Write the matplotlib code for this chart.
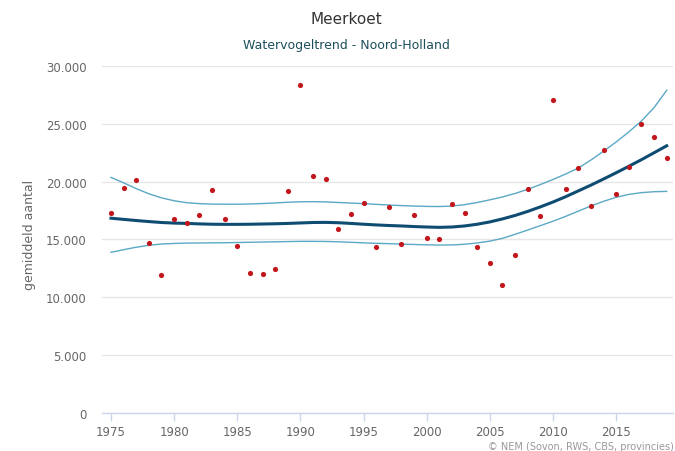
import numpy as np
from matplotlib import pyplot as plt
from matplotlib.ticker import FuncFormatter

# data ------------------------------------------------------------------------
years = list(range(1975, 2020))

counts = [17300, 19450, 20150, 14700, 11950, 16800, 16450, 17100, 19300, 16800,
          14450, 12100, 12000, 12450, 19200, 28350, 20500, 20200, 15900, 17200,
          18150, 14350, 17850, 14600, 17100, 15100, 15000, 18050, 17300, 14350,
          12950, 11050, 13650, 19400, 17000, 27100, 19400, 21200, 17900, 22700,
          18900, 21250, 25000, 23850, 22050]

trend = [16840, 16740, 16640, 16550, 16470, 16420, 16390, 16350, 16320, 16310,
         16310, 16320, 16340, 16360, 16390, 16430, 16470, 16480, 16450, 16390,
         16320, 16260, 16210, 16170, 16120, 16080, 16050, 16080, 16170, 16320,
         16520, 16780, 17080, 17430, 17820, 18240, 18700, 19200, 19700, 20230,
         20770, 21330, 21900, 22500, 23100]

upper = [20370, 19900, 19400, 18950, 18600, 18350, 18180, 18100, 18060, 18050,
         18050, 18070, 18110, 18160, 18220, 18260, 18270, 18250, 18200, 18150,
         18100, 18040, 17980, 17930, 17890, 17860, 17850, 17890, 18010, 18200,
         18430, 18680, 18980, 19340, 19750, 20190, 20660, 21170, 21870, 22630,
         23430, 24300, 25250, 26400, 27900]

lower = [13890, 14120, 14330, 14500, 14610, 14660, 14690, 14700, 14710, 14720,
         14740, 14760, 14780, 14800, 14820, 14840, 14840, 14830, 14800, 14760,
         14710, 14670, 14640, 14600, 14570, 14540, 14520, 14530, 14590, 14700,
         14860, 15100, 15450, 15820, 16200, 16580, 17000, 17450, 17900, 18300,
         18650, 18900, 19050, 19130, 19160]

x_ticks = list(range(1975, 2020, 5))
y_ticks = [0, 5000, 10000, 15000, 20000, 25000, 30000]

plt.rcParams['font.family'] = ['DejaVu Sans']

fig = plt.figure(figsize=(6.75, 4.52), dpi=100)
ax = fig.add_axes([102/675, 38/452, 571/675, 347/452])

# confidence band lines and trend
ax.plot(years, upper, color='#5ba8c4', lw=1.0, zorder=2)
ax.plot(years, lower, color='#5ba8c4', lw=1.0, zorder=2)
ax.plot(years, trend, color='#0f4c72', lw=2.2, zorder=3)
ax.scatter(years, counts, s=14, color='#c3161c', zorder=4, linewidths=0)

ax.set_xlim(1974.29, 2019.5)
ax.set_ylim(0, 30000)
ax.set_xticks(x_ticks)
ax.set_yticks(y_ticks)
ax.yaxis.set_major_formatter(FuncFormatter(lambda v, p: f"{int(v):,}".replace(",", ".")))

ax.grid(axis='y', color='#e6e6e6', lw=1)
ax.set_axisbelow(True)
for s in ['top', 'right', 'left']:
    ax.spines[s].set_visible(False)
ax.spines['bottom'].set_color('#ccd6eb')
ax.spines['bottom'].set_linewidth(1)
ax.tick_params(axis='x', colors='#ccd6eb', length=6, width=1, labelcolor='#666666',
               labelsize=8.5, pad=3)
ax.tick_params(axis='y', length=0, labelcolor='#666666', labelsize=8.5, pad=11)

fig.text(30/675, 1 - 235/452, 'gemiddeld aantal', rotation=90, ha='center', va='center',
         color='#666666', fontsize=9)

fig.text(346/675, 1 - 19/452, 'Meerkoet', ha='center', va='center', color='#333333',
         fontsize=11)
fig.text(346/675, 1 - 45/452, 'Watervogeltrend - Noord-Holland', ha='center', va='center',
         color='#1d4f5c', fontsize=9)
fig.text(0.999, 1 - 447/452, '\u00a9 NEM (Sovon, RWS, CBS, provincies)', ha='right',
         va='center', color='#999999', fontsize=7)

fig.savefig('out.png', dpi=100)
